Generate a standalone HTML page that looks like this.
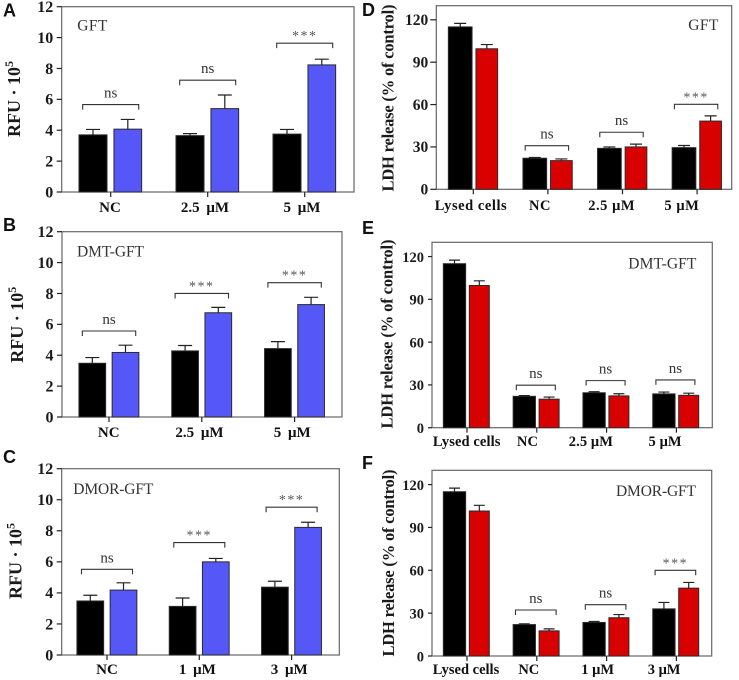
<!DOCTYPE html>
<html lang="en">
<head>
<meta charset="utf-8">
<title>RFU and LDH release panels</title>
<style>
html,body{margin:0;padding:0;background:#fff;width:739px;height:680px;overflow:hidden}
svg{display:block}
text{font-family:"Liberation Serif",serif}
.tick{font-weight:bold;fill:#1a1a1a}
.xl{font-weight:bold;fill:#111}
.yt{font-weight:bold;fill:#1a1a1a}
.ttl{font-size:15.5px;fill:#333}
.ns{font-size:15px;fill:#333}
.star{font-size:14px;fill:#555;letter-spacing:1.5px}
.letter{font-family:"Liberation Sans",sans-serif;font-weight:bold;font-size:18px;fill:#111}
</style>
</head>
<body>
<svg id="figure" width="739" height="680" viewBox="0 0 739 680" xmlns="http://www.w3.org/2000/svg"></svg>
<script>
const rfuTicks = [0, 2, 4, 6, 8, 10, 12];
const ldhTicks = [0, 30, 60, 90, 120];

const aCategories = ['NC', '2.5 μM', '5 μM'];
const aControl = [3.7, 3.65, 3.75];
const aControlTop = [4.05, 3.78, 4.05];
const aTreated = [4.07, 5.4, 8.23];
const aTreatedTop = [4.7, 6.28, 8.6];
const aBracketLevel = [5.66, 7.24, 9.64];
const aBracketLabel = ['ns', 'ns', '***'];

const bCategories = ['NC', '2.5 μM', '5 μM'];
const bControl = [3.48, 4.28, 4.43];
const bControlTop = [3.85, 4.63, 4.88];
const bTreated = [4.18, 6.75, 7.28];
const bTreatedTop = [4.65, 7.1, 7.75];
const bBracketLevel = [5.57, 8.0, 8.7];
const bBracketLabel = ['ns', '***', '***'];

const cCategories = ['NC', '1 μM', '3 μM'];
const cControl = [3.48, 3.13, 4.37];
const cControlTop = [3.85, 3.67, 4.75];
const cTreated = [4.18, 6.0, 8.22];
const cTreatedTop = [4.65, 6.22, 8.55];
const cBracketLevel = [5.52, 7.24, 9.52];
const cBracketLabel = ['ns', '***', '***'];

const dCategories = ['Lysed cells', 'NC', '2.5 μM', '5 μM'];
const dControl = [115, 22, 29, 29.5];
const dControlTop = [117.5, 22.5, 30, 31];
const dTreated = [99.5, 20.3, 30, 48.3];
const dTreatedTop = [102.5, 21.5, 32, 52];
const dBracketLevel = [null, 30.9, 40.4, 60.2];
const dBracketLabel = ['', 'ns', 'ns', '***'];

const eCategories = ['Lysed cells', 'NC', '2.5 μM', '5 μM'];
const eControl = [115, 22, 24.5, 23.7];
const eControlTop = [117.5, 22.5, 25.2, 25];
const eTreated = [99.7, 20, 22.3, 22.7];
const eTreatedTop = [103, 21.5, 23.8, 24.2];
const eBracketLevel = [null, 29.8, 33, 33.5];
const eBracketLabel = ['', 'ns', 'ns', 'ns'];

const fCategories = ['Lysed cells', 'NC', '1 μM', '3 μM'];
const fControl = [115, 22, 23.5, 33];
const fControlTop = [117.5, 22.5, 24.2, 37.5];
const fTreated = [101.5, 17.6, 26.8, 47.5];
const fTreatedTop = [105.5, 19, 29, 51.5];
const fBracketLevel = [null, 32.2, 35.9, 60];
const fBracketLabel = ['', 'ns', 'ns', '***'];

const BLUE = '#5558f6';
const RED = '#d90000';
const NS = 'http://www.w3.org/2000/svg';
const root = document.getElementById('figure');

function make(parent, tag, attrs, text) {
  const el = document.createElementNS(NS, tag);
  for (const k in attrs) el.setAttribute(k, attrs[k]);
  if (text !== undefined) el.textContent = text;
  parent.appendChild(el);
  return el;
}

const panels = [
  { id:'a', letter:'A', lx:3, ly:16.5, title:'GFT', tx:77.3, ty:30.7, tw:30,
    left:61.7, right:354, top:6.7, base:192, max:12, ticks:rfuTicks,
    cat:aCategories, c:aControl, cTop:aControlTop, t:aTreated, tTop:aTreatedTop, lev:aBracketLevel, lab:aBracketLabel,
    x0:110.7, step:97, cOff:-17.7, tOff:17.1, cW:28, tW:27.7, cap:7, half:28, fill:BLUE,
    xlDx:[-0.7,-2.7,-2.7], xlY:212, xlSize:15, xlLs:0, xlWs:3, tickSize:16,
    title2:'RFU', ytx:20, yty:99, ytl:74, tickGap:8.5, tickLen:5 },
  { id:'b', letter:'B', lx:3, ly:231, title:'DMT-GFT', tx:77, ty:256.7, tw:67,
    left:62, right:342, top:231.7, base:417, max:12, ticks:rfuTicks,
    cat:bCategories, c:bControl, cTop:bControlTop, t:bTreated, tTop:bTreatedTop, lev:bBracketLevel, lab:bBracketLabel,
    x0:109, step:92.8, cOff:-16.7, tOff:16.5, cW:26.7, tW:26.7, cap:7, half:26.7, fill:BLUE,
    xlDx:[-0.3,-2.4,-2.4], xlY:437, xlSize:15, xlLs:0, xlWs:3, tickSize:16,
    title2:'RFU', ytx:23, yty:324.7, ytl:73, tickGap:8.5, tickLen:5 },
  { id:'c', letter:'C', lx:3, ly:463, title:'DMOR-GFT', tx:73.3, ty:494, tw:80,
    left:61.7, right:339.3, top:468.7, base:655, max:12, ticks:rfuTicks,
    cat:cCategories, c:cControl, cTop:cControlTop, t:cTreated, tTop:cTreatedTop, lev:cBracketLevel, lab:cBracketLabel,
    x0:107, step:92.3, cOff:-16.7, tOff:16.5, cW:26.7, tW:26.7, cap:7, half:25.5, fill:BLUE,
    xlDx:[0,-2,-2.4], xlY:674, xlSize:15, xlLs:0, xlWs:3, tickSize:16,
    title2:'RFU', ytx:21.7, yty:561, ytl:76, tickGap:8.5, tickLen:5 },
  { id:'d', letter:'D', lx:362, ly:16, title:'GFT', tx:688.3, ty:30, tw:30,
    left:436.3, right:731.7, top:5.7, base:189.3, max:130, ticks:ldhTicks,
    cat:dCategories, c:dControl, cTop:dControlTop, t:dTreated, tTop:dTreatedTop, lev:dBracketLevel, lab:dBracketLabel,
    x0:473.3, step:74.6, cOff:-13.1, tOff:13.5, cW:23.7, tW:21.7, cap:6, half:21.7, fill:RED,
    xlDx:[-2.3,-7.9,-10.8,-15.2], xlY:210, xlSize:14.5, xlLs:0.55, xlWs:0, tickSize:15.5,
    title2:'LDH', ytx:393.3, yty:98, ytl:187, tickGap:8, tickLen:6 },
  { id:'e', letter:'E', lx:362, ly:234, title:'DMT-GFT', tx:628.3, ty:268.3, tw:68,
    left:432, right:712.3, top:242.3, base:427.7, max:130, ticks:ldhTicks,
    cat:eCategories, c:eControl, cTop:eControlTop, t:eTreated, tTop:eTreatedTop, lev:eBracketLevel, lab:eBracketLabel,
    x0:467, step:69.8, cOff:-12.5, tOff:12.3, cW:22.3, tW:20, cap:5.5, half:19.5, fill:RED,
    xlDx:[-0.3,-9.3,-15.7,-11.3], xlY:446, xlSize:14.5, xlLs:0.1, xlWs:0, tickSize:14.5,
    title2:'LDH', ytx:392.7, yty:334, ytl:189, tickGap:8, tickLen:4 },
  { id:'f', letter:'F', lx:362, ly:469, title:'DMOR-GFT', tx:616, ty:496, tw:80,
    left:432, right:711.7, top:470.3, base:656, max:130, ticks:ldhTicks,
    cat:fCategories, c:fControl, cTop:fControlTop, t:fTreated, tTop:fTreatedTop, lev:fBracketLevel, lab:fBracketLabel,
    x0:467, step:69.8, cOff:-12.5, tOff:12.3, cW:22.3, tW:20, cap:5.5, half:20.3, fill:RED,
    xlDx:[-1,-8,-8.9,-12.3], xlY:674, xlSize:14.5, xlLs:0, xlWs:0, tickSize:14.5,
    title2:'LDH', ytx:394, yty:563, ytl:187, tickGap:8, tickLen:4 }
];

panels.forEach(function (p) {
  const y = function (v) { return p.base - (v / p.max) * (p.base - p.top); };
  const x = function (i) { return p.x0 + i * p.step; };

  const g = make(root, 'g', {});
  
  

  const letter = make(g, 'text', { x: p.lx, y: p.ly, class: 'letter' }, p.letter);
  
  

  const frame = make(g, 'rect', { x: p.left, y: p.top, width: p.right - p.left, height: p.base - p.top, fill: 'none', stroke: '#666', 'stroke-width': 1.2 });
  
  

  p.cat.forEach(function (name, i) {
    const cx = x(i) + p.cOff;
    const tx = x(i) + p.tOff;

    [[cx, p.cW, p.c[i], p.cTop[i], '#000', 'control'], [tx, p.tW, p.t[i], p.tTop[i], p.fill, 'treated']].forEach(function (s) {
      const stem = make(g, 'path', {
        d: 'M' + s[0] + ' ' + y(s[2]) + 'V' + y(s[3]) + 'M' + (s[0] - p.cap) + ' ' + y(s[3]) + 'H' + (s[0] + p.cap),
        fill: 'none', stroke: '#222', 'stroke-width': 1.2 });
      
      

      const bar = make(g, 'rect', {
        x: s[0] - s[1] / 2, y: y(s[2]), width: s[1], height: p.base - y(s[2]),
        fill: s[4], stroke: '#2a2a2a', 'stroke-width': 1 });
      
      
    });

    const tick = make(g, 'line', { x1: x(i), x2: x(i), y1: p.base, y2: p.base + 5, stroke: '#222', 'stroke-width': 1.2 });
    
    

    const lab = make(g, 'text', { x: x(i) + p.xlDx[i], y: p.xlY, 'text-anchor': 'middle', class: 'xl', 'font-size': p.xlSize, 'letter-spacing': p.xlLs, 'word-spacing': p.xlWs }, name);
    
    

    if (p.lev[i] !== null) {
      const by = y(p.lev[i]);
      const bx = x(i) - (p.max > 100 ? 1 : 0);
      const br = make(g, 'path', {
        d: 'M' + (bx - p.half) + ' ' + (by + 5) + 'V' + by + 'H' + (bx + p.half) + 'V' + (by + 5),
        fill: 'none', stroke: '#333', 'stroke-width': 1.1 });
      
      

      const isStar = p.lab[i] === '***';
      const sig = make(g, 'text', { x: bx, y: by + (isStar ? -3 : -7), 'text-anchor': 'middle', class: isStar ? 'star' : 'ns' }, p.lab[i]);
      
      
    }
  });

  p.ticks.forEach(function (v) {
    const t = make(g, 'line', { x1: p.left - p.tickLen, x2: p.left, y1: y(v), y2: y(v), stroke: '#222', 'stroke-width': 1.2 });
    
    

    const l = make(g, 'text', { x: p.left - p.tickGap, y: y(v) + 5.3, 'text-anchor': 'end', class: 'tick', 'font-size': p.tickSize }, v);
    
    
  });

  const ttl = make(g, 'text', { x: p.tx, y: p.ty, class: 'ttl', textLength: p.tw, lengthAdjust: 'spacing' }, p.title);
  
  

  const yTitle = make(g, 'text', {
    transform: 'translate(' + p.ytx + ' ' + p.yty + ') rotate(-90)',
    'text-anchor': 'middle', class: 'yt', 'font-size': p.title2 === 'RFU' ? 18 : 16.5 });
  
  
  if (p.title2 === 'RFU') {
    make(yTitle, 'tspan', {}, 'RFU · 10');
    make(yTitle, 'tspan', { dy: -7, 'font-size': '12px' }, '5');
  } else {
    yTitle.setAttribute('textLength', p.ytl);
    yTitle.setAttribute('lengthAdjust', 'spacing');
    yTitle.textContent = 'LDH release (% of control)';
  }
});
</script>
</body>
</html>
